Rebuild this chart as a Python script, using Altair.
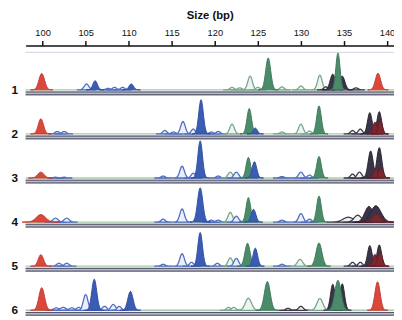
import altair as alt
import numpy as np
import pandas as pd

# ---- data ----
TICKS = [100, 105, 110, 115, 120, 125, 130, 135, 140]
LANE_NAMES = ["1", "2", "3", "4", "5", "6"]

# peaks per lane: (size bp, height, sigma bp, kind)
# kinds: R red, B blue, G green, K dark, M maroon (filled); b/g/k outline peaks
LANE1 = [(99.9, 16.6, 0.27, "R"), (105.1, 6, 0.22, "b"), (106.1, 9.3, 0.22, "B"),
         (107.6, 1.5, 0.2, "b"), (108.35, 2.5, 0.2, "b"), (109.3, 2.5, 0.2, "b"),
         (110.3, 6, 0.22, "B"), (122.0, 2.5, 0.2, "g"), (122.9, 2, 0.2, "g"),
         (124.1, 14, 0.22, "g"), (125.0, 2.5, 0.2, "g"), (126.2, 32.6, 0.24, "G"),
         (127.8, 3, 0.2, "g"), (130.0, 4, 0.2, "g"), (132.2, 15, 0.22, "g"),
         (132.9, 3, 0.2, "k"), (133.7, 16, 0.25, "K"), (134.8, 14, 0.25, "K"),
         (134.3, 37.6, 0.2, "G"), (136.4, 2, 0.2, "k"), (138.95, 17, 0.25, "R")]
LANE2 = [(99.8, 15.4, 0.25, "R"), (101.7, 2.5, 0.2, "b"), (102.5, 2.5, 0.2, "b"),
         (114.2, 3.5, 0.2, "b"), (115.2, 2, 0.2, "b"), (116.3, 12.7, 0.22, "b"),
         (117.5, 5, 0.2, "b"), (118.4, 35, 0.22, "B"), (119.6, 2, 0.2, "b"),
         (120.4, 2.5, 0.2, "b"), (122.0, 10, 0.22, "g"), (124.0, 26, 0.22, "G"),
         (124.7, 6, 0.2, "B"), (127.8, 2, 0.2, "g"), (130.0, 10, 0.22, "g"),
         (131.0, 3, 0.2, "g"), (132.1, 28.7, 0.22, "G"), (136.0, 3.5, 0.2, "k"),
         (136.9, 5, 0.2, "k"), (138.0, 21.7, 0.22, "K"), (139.1, 22.7, 0.22, "K"),
         (138.6, 12, 0.2, "M"), (139.2, 14, 0.2, "M")]
LANE3 = [(99.8, 6, 0.3, "R"), (101.5, 0.8, 0.2, "b"), (102.5, 0.8, 0.2, "b"),
         (114.0, 2, 0.2, "b"), (116.2, 12, 0.22, "b"), (117.5, 5, 0.2, "b"),
         (118.3, 38, 0.22, "B"), (120.4, 2, 0.2, "b"), (121.8, 6, 0.22, "g"),
         (122.5, 6, 0.22, "b"), (123.9, 21, 0.22, "G"), (124.6, 16.6, 0.22, "B"),
         (127.8, 1.5, 0.2, "b"), (130.0, 6, 0.22, "b"), (131.0, 3, 0.2, "b"),
         (132.1, 22, 0.22, "G"), (136.0, 4, 0.2, "k"), (136.8, 6, 0.22, "k"),
         (138.1, 27.6, 0.24, "K"), (139.1, 31, 0.24, "K"),
         (138.7, 9, 0.22, "M"), (139.3, 10, 0.22, "M")]
LANE4 = [(99.8, 7.7, 0.45, "R"), (101.5, 4, 0.25, "b"), (102.8, 4, 0.25, "b"),
         (114.0, 3, 0.2, "b"), (116.2, 13.4, 0.22, "b"), (118.3, 35, 0.25, "B"),
         (119.6, 2, 0.2, "b"), (120.4, 2, 0.2, "b"), (121.8, 10, 0.22, "g"),
         (122.5, 6, 0.22, "b"), (123.9, 25, 0.22, "G"), (124.5, 13, 0.22, "B"),
         (127.8, 2, 0.2, "b"), (130.0, 8.7, 0.22, "b"), (131.0, 3, 0.2, "b"),
         (132.1, 26.7, 0.22, "G"), (135.5, 5, 0.5, "k"), (136.6, 7, 0.35, "k"),
         (137.9, 16, 0.4, "K"), (138.7, 16.7, 0.5, "K"), (138.8, 8, 0.4, "M")]
LANE5 = [(99.8, 11.7, 0.25, "R"), (101.9, 3, 0.22, "b"), (102.8, 3, 0.22, "b"),
         (114.0, 2, 0.2, "b"), (116.2, 12.7, 0.22, "b"), (117.3, 4, 0.2, "b"),
         (118.3, 34.4, 0.22, "B"), (120.3, 3, 0.2, "b"), (121.8, 8.4, 0.22, "g"),
         (122.5, 8, 0.22, "b"), (123.8, 23.4, 0.25, "G"), (124.7, 18.4, 0.22, "B"),
         (127.8, 2, 0.2, "b"), (129.9, 7, 0.25, "g"), (132.1, 23.7, 0.28, "G"),
         (136.0, 4, 0.2, "k"), (136.9, 4, 0.2, "k"), (138.0, 21, 0.22, "K"),
         (139.1, 21.7, 0.22, "K"), (138.6, 12, 0.22, "M"), (139.2, 14, 0.22, "M")]
LANE6 = [(99.9, 23, 0.27, "R"), (101.6, 2.5, 0.25, "b"), (102.4, 3, 0.25, "b"),
         (103.4, 2.5, 0.25, "b"), (104.2, 3, 0.2, "b"), (105.0, 16, 0.22, "b"),
         (106.0, 31.7, 0.24, "B"), (107.2, 4, 0.22, "b"), (108.2, 6, 0.22, "b"),
         (108.9, 4, 0.2, "b"), (110.2, 19.3, 0.25, "B"), (121.6, 3, 0.2, "g"),
         (122.2, 3, 0.2, "g"), (123.9, 12.3, 0.3, "g"), (126.1, 29.3, 0.28, "G"),
         (128.5, 2, 0.2, "k"), (130.0, 4, 0.22, "k"), (132.2, 12, 0.28, "g"),
         (133.7, 26.6, 0.22, "K"), (134.8, 27, 0.22, "K"), (134.3, 30.6, 0.3, "G"),
         (138.9, 29, 0.25, "R")]
LANES = [LANE1, LANE2, LANE3, LANE4, LANE5, LANE6]

# ---- styling / layout ----
FILL = {"R": "#d9483b", "B": "#3a5cb4", "G": "#4a8b6a", "K": "#3b3447", "M": "#7c2630",
        "b": "#eaeff9", "g": "#eef5f1", "k": "#f1f0f3"}
STROKE = {"R": "#c63a2f", "B": "#2f4f9f", "G": "#3e7a5c", "K": "#2a2433", "M": "#6a1d26",
          "b": "#4f6dc2", "g": "#7aa68e", "k": "#3d3b48"}
PLOT_W, PLOT_H = 376, 277
FIRST_BASE, SPACING = 45.3, 45.0
WIDEN = 1.2  # scan blur makes the peaks look broader

bases = [PLOT_H - (FIRST_BASE + SPACING * i) for i in range(len(LANES))]

rows = []
for li, peaks in enumerate(LANES):
    base = bases[li]
    for pi, (c, h, s, k) in enumerate(peaks):
        s = s * WIDEN
        xs = np.linspace(c - 4 * s, c + 4 * s, 41)
        ys = base + h * np.exp(-0.5 * ((xs - c) / s) ** 2)
        for xv, yv in zip(xs, ys):
            rows.append({"pid": f"{li}-{pi}", "kind": k, "size": float(xv), "y": float(yv),
                         "y0": base, "fill": FILL[k], "stroke": STROKE[k]})
df = pd.DataFrame(rows)

lanes_df = pd.DataFrame({"lane": LANE_NAMES, "base": bases})
lanes_df["d1"] = lanes_df["base"] - 2.2
lanes_df["band"] = lanes_df["base"] - 3.7
lanes_df["d2"] = lanes_df["base"] - 5.0

X = alt.X("size:Q", scale=alt.Scale(domain=[98.03, 140.81], nice=False, zero=False),
          axis=alt.Axis(orient="top", values=TICKS, format="d", grid=False,
                        title="Size (bp)", tickSize=5, tickWidth=1.5, domainWidth=1.5,
                        domainColor="#111", tickColor="#111", labelColor="#111",
                        labelFontSize=9.5, labelFont="Liberation Sans", labelPadding=3,
                        titleFont="Liberation Sans", titleFontSize=11.5,
                        titleFontWeight="bold", titleColor="#111", titlePadding=7))
YS = alt.Scale(domain=[0, PLOT_H], nice=False, zero=False)

layers = []
# faint separator under the axis
layers.append(alt.Chart(pd.DataFrame({"v": [PLOT_H - 7]})).mark_rule(
    color="#cdd1e2", strokeWidth=1).encode(y=alt.Y("v:Q", scale=YS, axis=None)))
# lane bands
layers.append(alt.Chart(lanes_df).mark_rule(color="#b8b8cf", strokeWidth=4).encode(
    y=alt.Y("band:Q", scale=YS, axis=None)))
layers.append(alt.Chart(lanes_df).mark_rule(color="#4a4a5c", strokeWidth=1).encode(
    y=alt.Y("d1:Q", scale=YS, axis=None)))
layers.append(alt.Chart(lanes_df).mark_rule(color="#4a4a5c", strokeWidth=1).encode(
    y=alt.Y("d2:Q", scale=YS, axis=None)))
layers.append(alt.Chart(lanes_df).mark_rule(color="#a6caae", strokeWidth=1.4).encode(
    y=alt.Y("base:Q", scale=YS, axis=None)))

for group, sw in [(["b", "g", "k"], 1.3), (["K"], 1), (["G"], 1), (["B"], 1),
                  (["R"], 1), (["M"], 1)]:
    sub = df[df["kind"].isin(group)]
    layers.append(alt.Chart(sub).mark_area(strokeWidth=sw, interpolate="monotone").encode(
        x=X,
        y=alt.Y("y:Q", scale=YS, axis=None, stack=None),
        y2="y0:Q",
        detail="pid:N",
        fill=alt.Fill("fill:N", scale=None),
        stroke=alt.Stroke("stroke:N", scale=None),
    ))

layers.append(alt.Chart(lanes_df).mark_text(
    font="Liberation Sans", fontSize=12, fontWeight="bold", color="#111",
    align="center", baseline="middle").encode(
    x=alt.value(-11), y=alt.Y("base:Q", scale=YS, axis=None), text="lane:N"))

chart = alt.layer(*layers).properties(
    width=PLOT_W, height=PLOT_H,
    autosize=alt.AutoSizeParams(type="none"),
    padding={"left": 18, "top": 35, "right": 0, "bottom": 0},
).configure_view(stroke=None)

chart.save("out.html", embed_options={"renderer": "svg", "actions": False})
